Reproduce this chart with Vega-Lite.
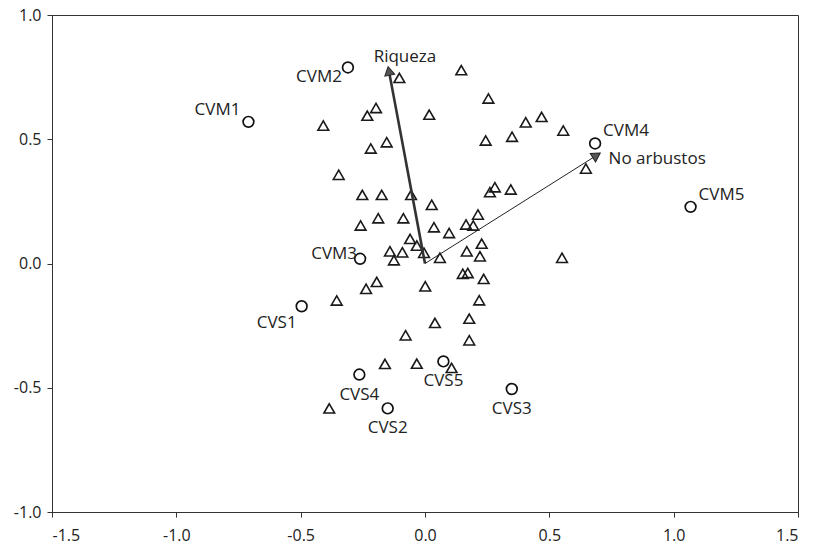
{
  "$schema": "https://vega.github.io/schema/vega-lite/v6.json",
  "width": 746,
  "height": 497,
  "autosize": "none",
  "padding": {"left": 52, "top": 15, "right": 15, "bottom": 35},
  "background": "white",
  "config": {
    "view": {"stroke": "#333", "strokeWidth": 1},
    "axis": {
      "grid": false, "title": null, "domainColor": "#333", "tickColor": "#333",
      "tickSize": 5, "labelFont": "Open Sans", "labelFontSize": 16, "labelColor": "#222"
    }
  },
  "datasets": {
    "species": [
      {"x": -0.103, "y": 0.747}, {"x": -0.197, "y": 0.626}, {"x": -0.232, "y": 0.595},
      {"x": -0.409, "y": 0.555}, {"x": 0.017, "y": 0.599}, {"x": -0.154, "y": 0.488},
      {"x": -0.218, "y": 0.463}, {"x": -0.347, "y": 0.357}, {"x": -0.252, "y": 0.276},
      {"x": -0.174, "y": 0.276}, {"x": -0.056, "y": 0.276}, {"x": 0.027, "y": 0.236},
      {"x": -0.188, "y": 0.182}, {"x": -0.087, "y": 0.182}, {"x": -0.259, "y": 0.153},
      {"x": 0.036, "y": 0.146}, {"x": 0.097, "y": 0.123}, {"x": -0.06, "y": 0.099},
      {"x": -0.033, "y": 0.072}, {"x": -0.004, "y": 0.043}, {"x": -0.141, "y": 0.049},
      {"x": -0.091, "y": 0.045}, {"x": -0.125, "y": 0.013}, {"x": 0.06, "y": 0.023},
      {"x": 0.146, "y": 0.778}, {"x": 0.255, "y": 0.664}, {"x": 0.405, "y": 0.568},
      {"x": 0.469, "y": 0.59}, {"x": 0.556, "y": 0.535}, {"x": 0.244, "y": 0.495},
      {"x": 0.35, "y": 0.51}, {"x": 0.647, "y": 0.382}, {"x": 0.281, "y": 0.307},
      {"x": 0.261, "y": 0.287}, {"x": 0.345, "y": 0.298}, {"x": 0.213, "y": 0.197},
      {"x": 0.165, "y": 0.157}, {"x": 0.194, "y": 0.153}, {"x": 0.228, "y": 0.08},
      {"x": 0.168, "y": 0.049}, {"x": 0.221, "y": 0.029}, {"x": 0.551, "y": 0.023},
      {"x": 0.152, "y": -0.041}, {"x": 0.172, "y": -0.038}, {"x": 0.236, "y": -0.062},
      {"x": -0.194, "y": -0.074}, {"x": -0.237, "y": -0.102}, {"x": 0.001, "y": -0.092},
      {"x": -0.355, "y": -0.149}, {"x": 0.218, "y": -0.148}, {"x": 0.04, "y": -0.239},
      {"x": 0.178, "y": -0.222}, {"x": -0.078, "y": -0.289}, {"x": 0.178, "y": -0.309},
      {"x": -0.161, "y": -0.404}, {"x": -0.033, "y": -0.403}, {"x": 0.107, "y": -0.42},
      {"x": -0.385, "y": -0.583}
    ],
    "sites": [
      {"site": "CVM1", "x": -0.71, "y": 0.57},
      {"site": "CVM2", "x": -0.31, "y": 0.789},
      {"site": "CVM3", "x": -0.261, "y": 0.019},
      {"site": "CVM4", "x": 0.684, "y": 0.483},
      {"site": "CVM5", "x": 1.068, "y": 0.228},
      {"site": "CVS1", "x": -0.496, "y": -0.172},
      {"site": "CVS2", "x": -0.15, "y": -0.583},
      {"site": "CVS3", "x": 0.349, "y": -0.505},
      {"site": "CVS4", "x": -0.264, "y": -0.447},
      {"site": "CVS5", "x": 0.074, "y": -0.394}
    ],
    "vars": [
      {"var": "Riqueza", "x": -0.145, "y": 0.775},
      {"var": "No arbustos", "x": 0.69, "y": 0.435}
    ]
  },
  "layer": [
    {
      "mark": {"type": "rule", "color": "#222", "strokeWidth": 1, "strokeDash": [3, 1.5]},
      "encoding": {"y": {"datum": 0, "type": "quantitative", "scale": {"domain": [-1, 1], "nice": false}}}
    },
    {
      "mark": {"type": "rule", "color": "#222", "strokeWidth": 1, "strokeDash": [3, 1.5]},
      "encoding": {"x": {"datum": 0, "type": "quantitative", "scale": {"domain": [-1.5, 1.5], "nice": false}}}
    },
    {
      "data": {"name": "species"},
      "mark": {"type": "point", "shape": "triangle-up", "filled": false, "stroke": "#1a1a1a", "strokeWidth": 1.6, "size": 115, "opacity": 1},
      "encoding": {
        "x": {"field": "x", "type": "quantitative", "scale": {"domain": [-1.5, 1.5], "nice": false},
              "axis": {"values": [-1.5, -1, -0.5, 0, 0.5, 1, 1.5], "labelExpr": "replace(format(datum.value, '.1f'), '\u2212', '-')", "labelPadding": 10}},
        "y": {"field": "y", "type": "quantitative", "scale": {"domain": [-1, 1], "nice": false},
              "axis": {"values": [-1, -0.5, 0, 0.5, 1], "labelExpr": "replace(format(datum.value, '.1f'), '\u2212', '-')", "labelPadding": 6}}
      }
    },
    {
      "data": {"name": "vars"},
      "transform": [{"filter": "datum.var == 'Riqueza'"}],
      "mark": {"type": "rule", "color": "#333", "strokeWidth": 2.6},
      "encoding": {
        "x": {"field": "x", "type": "quantitative"}, "y": {"field": "y", "type": "quantitative"},
        "x2": {"datum": 0}, "y2": {"datum": 0}
      }
    },
    {
      "data": {"name": "vars"},
      "transform": [{"filter": "datum.var == 'No arbustos'"}],
      "mark": {"type": "rule", "color": "#222", "strokeWidth": 1},
      "encoding": {
        "x": {"field": "x", "type": "quantitative"}, "y": {"field": "y", "type": "quantitative"},
        "x2": {"datum": 0}, "y2": {"datum": 0}
      }
    },
    {
      "data": {"name": "vars"},
      "transform": [{"filter": "datum.var == 'Riqueza'"}],
      "mark": {"type": "point", "shape": "triangle-up", "filled": true, "fill": "#555", "stroke": "#222", "strokeWidth": 1, "size": 100, "angle": -11, "opacity": 1},
      "encoding": {"x": {"field": "x", "type": "quantitative"}, "y": {"field": "y", "type": "quantitative"}}
    },
    {
      "data": {"name": "vars"},
      "transform": [{"filter": "datum.var == 'No arbustos'"}],
      "mark": {"type": "point", "shape": "triangle-up", "filled": true, "fill": "#555", "stroke": "#222", "strokeWidth": 1, "size": 100, "angle": 58, "opacity": 1},
      "encoding": {"x": {"field": "x", "type": "quantitative"}, "y": {"field": "y", "type": "quantitative"}}
    },
    {
      "data": {"name": "sites"},
      "mark": {"type": "point", "shape": "circle", "filled": false, "stroke": "#111", "strokeWidth": 1.7, "size": 115, "opacity": 1},
      "encoding": {"x": {"field": "x", "type": "quantitative"}, "y": {"field": "y", "type": "quantitative"}}
    },
    {
      "data": {"name": "vars"},
      "transform": [{"filter": "datum.var == 'Riqueza'"}],
      "mark": {"type": "text", "font": "Open Sans", "fontSize": 17, "color": "#222", "align": "center", "baseline": "middle", "dx": 16, "dy": -14},
      "encoding": {"x": {"field": "x", "type": "quantitative"}, "y": {"field": "y", "type": "quantitative"}, "text": {"field": "var"}}
    },
    {
      "data": {"name": "vars"},
      "transform": [{"filter": "datum.var == 'No arbustos'"}],
      "mark": {"type": "text", "font": "Open Sans", "fontSize": 17, "color": "#222", "align": "left", "baseline": "middle", "dx": 12, "dy": 4},
      "encoding": {"x": {"field": "x", "type": "quantitative"}, "y": {"field": "y", "type": "quantitative"}, "text": {"field": "var"}}
    },
    {
      "data": {"name": "sites"},
      "transform": [{"filter": {"field": "site", "oneOf": ["CVS2", "CVS3", "CVS4", "CVS5"]}}],
      "mark": {"type": "text", "font": "Open Sans", "fontSize": 17, "color": "#222", "align": "center", "baseline": "middle", "dy": 20},
      "encoding": {"x": {"field": "x", "type": "quantitative"}, "y": {"field": "y", "type": "quantitative"}, "text": {"field": "site"}}
    },
    {
      "data": {"name": "sites"},
      "transform": [{"filter": {"field": "site", "oneOf": ["CVM4", "CVM5"]}}],
      "mark": {"type": "text", "font": "Open Sans", "fontSize": 17, "color": "#222", "align": "left", "baseline": "middle", "dx": 8, "dy": -12},
      "encoding": {"x": {"field": "x", "type": "quantitative"}, "y": {"field": "y", "type": "quantitative"}, "text": {"field": "site"}}
    },
    {
      "data": {"name": "sites"},
      "transform": [{"filter": "datum.site == 'CVM1'"}],
      "mark": {"type": "text", "font": "Open Sans", "fontSize": 17, "color": "#222", "align": "right", "baseline": "middle", "dx": -8, "dy": -12},
      "encoding": {"x": {"field": "x", "type": "quantitative"}, "y": {"field": "y", "type": "quantitative"}, "text": {"field": "site"}}
    },
    {
      "data": {"name": "sites"},
      "transform": [{"filter": "datum.site == 'CVM2'"}],
      "mark": {"type": "text", "font": "Open Sans", "fontSize": 17, "color": "#222", "align": "right", "baseline": "middle", "dx": -6, "dy": 10},
      "encoding": {"x": {"field": "x", "type": "quantitative"}, "y": {"field": "y", "type": "quantitative"}, "text": {"field": "site"}}
    },
    {
      "data": {"name": "sites"},
      "transform": [{"filter": "datum.site == 'CVM3'"}],
      "mark": {"type": "text", "font": "Open Sans", "fontSize": 17, "color": "#222", "align": "right", "baseline": "middle", "dx": -3, "dy": -5},
      "encoding": {"x": {"field": "x", "type": "quantitative"}, "y": {"field": "y", "type": "quantitative"}, "text": {"field": "site"}}
    },
    {
      "data": {"name": "sites"},
      "transform": [{"filter": "datum.site == 'CVS1'"}],
      "mark": {"type": "text", "font": "Open Sans", "fontSize": 17, "color": "#222", "align": "right", "baseline": "middle", "dx": -5, "dy": 17},
      "encoding": {"x": {"field": "x", "type": "quantitative"}, "y": {"field": "y", "type": "quantitative"}, "text": {"field": "site"}}
    }
  ]
}
